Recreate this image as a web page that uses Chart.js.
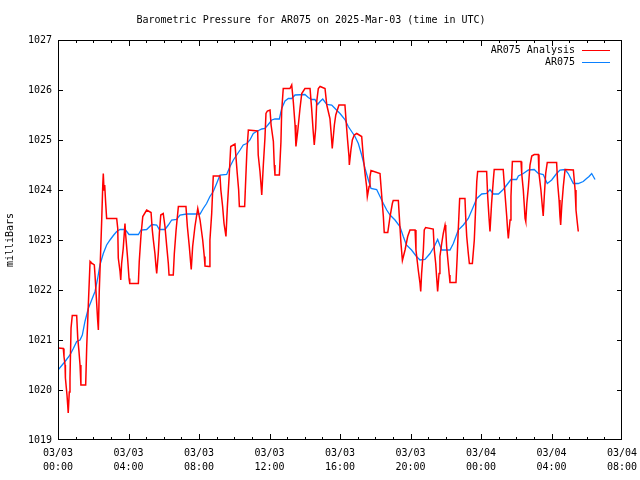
<!DOCTYPE html>
<html>
<head>
<meta charset="utf-8">
<script src="https://cdn.jsdelivr.net/npm/chart.js@4.4.1/dist/chart.umd.min.js"></script>
<style>
  html, body { margin: 0; padding: 0; background: #fff; }
  canvas { display: block; }
</style>
</head>
<body>
<canvas id="pressure-chart" width="640" height="480"></canvas>
<script>
// hours after 03/03 00:00 UTC, pressure in millibars
const analysisHours = [
  0.00, 0.30, 0.34, 0.40, 0.42, 0.51, 0.55, 0.58, 0.64, 0.68,
  0.74, 0.81, 1.06, 1.12, 1.19, 1.25, 1.30, 1.57, 1.63, 1.72,
  1.82, 1.87, 2.06, 2.10, 2.20, 2.25, 2.29, 2.34, 2.42, 2.48,
  2.54, 2.57, 2.61, 2.65, 2.70, 2.76, 3.33, 3.39, 3.42, 3.52,
  3.56, 3.61, 3.70, 3.80, 3.84, 3.95, 4.03, 4.07, 4.56, 4.61,
  4.71, 4.81, 5.03, 5.28, 5.35, 5.41, 5.50, 5.56, 5.60, 5.69,
  5.75, 5.83, 5.97, 6.07, 6.17, 6.26, 6.30, 6.54, 6.60, 6.70,
  6.83, 7.26, 7.34, 7.45, 7.53, 7.56, 7.64, 7.77, 7.87, 7.93,
  8.06, 8.21, 8.30, 8.34, 8.57, 8.62, 8.72, 8.81, 9.19, 9.24,
  9.34, 9.42, 9.53, 9.61, 9.72, 9.80, 10.04, 10.17, 10.25, 10.29,
  10.59, 10.65, 10.72, 10.80, 11.33, 11.36, 11.46, 11.52, 11.56, 11.65,
  11.74, 11.80, 11.88, 12.03, 12.09, 12.22, 12.27, 12.31, 12.56, 12.65,
  12.69, 12.78, 13.16, 13.26, 13.35, 13.45, 13.50, 13.60, 13.73, 13.83,
  14.01, 14.30, 14.39, 14.48, 14.54, 14.62, 14.68, 14.77, 14.87, 15.15,
  15.25, 15.43, 15.49, 15.56, 15.68, 15.76, 15.94, 16.28, 16.37, 16.43,
  16.51, 16.53, 16.62, 16.70, 16.81, 16.95, 17.23, 17.32, 17.42, 17.51,
  17.55, 17.65, 17.70, 17.76, 18.27, 18.37, 18.46, 18.51, 18.71, 18.84,
  18.97, 19.02, 19.31, 19.40, 19.46, 19.54, 19.69, 19.84, 19.97, 20.26,
  20.31, 20.44, 20.54, 20.58, 20.63, 20.73, 20.78, 20.86, 21.29, 21.35,
  21.43, 21.48, 21.54, 21.62, 21.67, 21.77, 21.86, 21.96, 22.00, 22.05,
  22.14, 22.20, 22.24, 22.58, 22.65, 22.71, 22.79, 23.09, 23.13, 23.19,
  23.28, 23.34, 23.51, 23.62, 23.70, 23.76, 23.81, 24.32, 24.38, 24.45,
  24.51, 24.60, 24.70, 24.75, 25.26, 25.36, 25.46, 25.51, 25.55, 25.65,
  25.70, 25.78, 26.27, 26.31, 26.40, 26.46, 26.50, 26.54, 26.60, 26.69,
  26.78, 26.88, 27.02, 27.25, 27.29, 27.40, 27.48, 27.53, 27.59, 27.67,
  27.76, 28.29, 28.35, 28.43, 28.48, 28.52, 28.58, 28.67, 28.77, 29.24,
  29.34, 29.39, 29.47, 29.52
];
const analysisValues = [
  1020.84, 1020.83, 1020.67, 1020.50, 1020.24, 1019.90, 1019.70, 1019.54, 1019.96, 1020.24,
  1021.24, 1021.49, 1021.49, 1021.04, 1020.77, 1020.50, 1020.10, 1020.10, 1020.87, 1021.70,
  1022.57, 1022.55, 1022.50, 1022.30, 1021.70, 1021.40, 1021.20, 1021.97, 1022.77, 1023.40,
  1024.10, 1024.33, 1024.00, 1024.10, 1023.77, 1023.43, 1023.43, 1023.23, 1022.64, 1022.37,
  1022.20, 1022.53, 1022.83, 1023.33, 1023.10, 1022.63, 1022.23, 1022.13, 1022.13, 1022.57,
  1023.10, 1023.47, 1023.60, 1023.55, 1023.20, 1023.00, 1022.73, 1022.47, 1022.33, 1022.73,
  1023.13, 1023.50, 1023.53, 1023.27, 1022.87, 1022.53, 1022.30, 1022.30, 1022.73, 1023.20,
  1023.67, 1023.67, 1023.27, 1022.87, 1022.53, 1022.41, 1022.87, 1023.27, 1023.50, 1023.63,
  1023.40, 1023.00, 1022.67, 1022.48, 1022.47, 1023.00, 1023.53, 1024.28, 1024.28, 1024.00,
  1023.67, 1023.33, 1023.07, 1023.67, 1024.33, 1024.87, 1024.92, 1024.33, 1024.00, 1023.67,
  1023.67, 1024.20, 1024.80, 1025.20, 1025.18, 1024.70, 1024.37, 1024.10, 1023.90, 1024.50,
  1025.03, 1025.53, 1025.58, 1025.60, 1025.30, 1024.97, 1024.50, 1024.30, 1024.30, 1024.97,
  1025.57, 1026.03, 1026.03, 1026.10, 1025.77, 1025.30, 1024.87, 1025.17, 1025.63, 1025.93,
  1026.03, 1026.03, 1025.63, 1025.17, 1024.90, 1025.23, 1025.77, 1026.03, 1026.07, 1026.03,
  1025.70, 1025.43, 1025.17, 1024.83, 1025.30, 1025.50, 1025.70, 1025.70, 1025.27, 1025.00,
  1024.67, 1024.50, 1024.80, 1025.00, 1025.10, 1025.13, 1025.07, 1024.67, 1024.33, 1024.07,
  1023.87, 1024.07, 1024.27, 1024.39, 1024.33, 1023.87, 1023.47, 1023.15, 1023.15, 1023.47,
  1023.73, 1023.79, 1023.79, 1023.27, 1022.93, 1022.59, 1022.80, 1023.07, 1023.20, 1023.20,
  1022.80, 1022.40, 1022.13, 1021.97, 1022.33, 1022.80, 1023.20, 1023.25, 1023.22, 1022.80,
  1022.53, 1022.27, 1021.97, 1022.33, 1022.67, 1022.93, 1023.13, 1023.30, 1023.20, 1022.87,
  1022.53, 1022.30, 1022.15, 1022.15, 1022.67, 1023.20, 1023.83, 1023.83, 1023.47, 1023.07,
  1022.73, 1022.53, 1022.53, 1023.00, 1023.67, 1024.17, 1024.37, 1024.37, 1023.87, 1023.47,
  1023.17, 1023.73, 1024.20, 1024.41, 1024.41, 1023.93, 1023.47, 1023.20, 1023.03, 1023.40,
  1023.87, 1024.57, 1024.57, 1024.33, 1024.00, 1023.67, 1023.43, 1023.37, 1023.73, 1024.07,
  1024.50, 1024.68, 1024.71, 1024.71, 1024.33, 1024.00, 1023.67, 1023.48, 1023.87, 1024.33,
  1024.55, 1024.55, 1024.13, 1023.80, 1023.47, 1023.30, 1023.67, 1024.07, 1024.41, 1024.40,
  1024.00, 1023.60, 1023.33, 1023.17
];

const stationHours = [
  0.00, 0.40, 0.68, 0.87, 1.06, 1.25, 1.38, 1.53, 1.72, 1.91,
  2.10, 2.25, 2.38, 2.57, 2.76, 2.95, 3.14, 3.33, 3.52, 3.80,
  3.90, 4.03, 4.56, 4.71, 5.03, 5.32, 5.60, 5.75, 6.07, 6.26,
  6.45, 6.73, 6.92, 7.30, 8.06, 8.24, 8.43, 8.62, 8.81, 9.00,
  9.19, 9.57, 9.76, 9.95, 10.14, 10.33, 10.51, 10.71, 10.89, 11.08,
  11.27, 11.56, 11.74, 11.93, 12.13, 12.31, 12.56, 12.69, 12.88, 13.07,
  13.26, 13.45, 14.01, 14.20, 14.39, 14.58, 14.73, 14.87, 15.02, 15.25,
  15.53, 15.72, 16.00, 16.28, 16.47, 16.66, 16.85, 17.04, 17.23, 17.42,
  17.61, 17.76, 18.08, 18.27, 18.46, 18.65, 18.84, 19.12, 19.40, 19.59,
  19.77, 20.06, 20.34, 20.54, 20.82, 21.11, 21.35, 21.54, 21.77, 22.24,
  22.43, 22.71, 23.00, 23.28, 23.57, 23.76, 24.04, 24.32, 24.51, 24.70,
  24.99, 25.26, 25.46, 25.70, 26.02, 26.12, 26.40, 26.69, 27.02, 27.25,
  27.53, 27.76, 28.01, 28.29, 28.48, 28.77, 28.95, 29.24, 29.52, 29.80,
  29.99, 30.13, 30.28, 30.47
];
const stationValues = [
  1020.40, 1020.57, 1020.70, 1020.83, 1020.97, 1021.00, 1021.10, 1021.37, 1021.63, 1021.80,
  1021.97, 1022.23, 1022.50, 1022.73, 1022.90, 1023.00, 1023.09, 1023.17, 1023.21, 1023.21,
  1023.17, 1023.11, 1023.11, 1023.20, 1023.21, 1023.31, 1023.30, 1023.21, 1023.21, 1023.30,
  1023.40, 1023.41, 1023.50, 1023.52, 1023.52, 1023.63, 1023.73, 1023.87, 1023.97, 1024.13,
  1024.30, 1024.31, 1024.47, 1024.60, 1024.70, 1024.80, 1024.90, 1024.93, 1025.00, 1025.13,
  1025.17, 1025.22, 1025.23, 1025.31, 1025.40, 1025.42, 1025.42, 1025.63, 1025.78, 1025.83,
  1025.83, 1025.90, 1025.91, 1025.85, 1025.81, 1025.81, 1025.71, 1025.77, 1025.82, 1025.71,
  1025.70, 1025.63, 1025.53, 1025.41, 1025.27, 1025.17, 1025.07, 1024.93, 1024.70, 1024.43,
  1024.20, 1024.03, 1024.01, 1023.87, 1023.73, 1023.60, 1023.50, 1023.40, 1023.27, 1023.07,
  1022.90, 1022.80, 1022.67, 1022.60, 1022.61, 1022.73, 1022.87, 1023.01, 1022.80, 1022.80,
  1022.93, 1023.20, 1023.30, 1023.43, 1023.67, 1023.83, 1023.92, 1023.93, 1024.01, 1023.92,
  1023.92, 1024.01, 1024.10, 1024.21, 1024.21, 1024.28, 1024.33, 1024.40, 1024.41, 1024.33,
  1024.31, 1024.13, 1024.20, 1024.33, 1024.40, 1024.41, 1024.33, 1024.13, 1024.13, 1024.17,
  1024.23, 1024.27, 1024.33, 1024.21
];

const seriesNames = ["AR075 Analysis", "AR075"];
const seriesColors = ["#ff0000", "#0a80ff"];
const startDay = 3; // 2025-Mar-03
const hourMin = 0, hourMax = 32, hourStep = 4;
const pressureMin = 1019, pressureMax = 1027;

const FONT = { family: "'DejaVu Sans Mono', monospace", size: 10 };

function toPoints(hours, values) {
    return hours.map((h, i) => ({ x: h, y: values[i] }));
}

function pad2(n) {
    return String(n).padStart(2, "0");
}

// gnuplot style frame with inward ticks on all four sides, plus legend in the top right
const gnuFrame = {
    id: "gnuFrame",
    afterDraw(chart) {
        const { ctx, chartArea: a, scales } = chart;
        ctx.save();
        ctx.strokeStyle = "#000";
        ctx.lineWidth = 1;
        ctx.strokeRect(a.left + 0.5, a.top + 0.5, a.right - a.left - 1, a.bottom - a.top - 1);

        ctx.beginPath();
        for (let h = hourMin + 1; h < hourMax; h++) {
            const px = Math.round(scales.x.getPixelForValue(h)) + 0.5;
            const len = h % hourStep === 0 ? 6 : 3;
            ctx.moveTo(px, a.bottom);
            ctx.lineTo(px, a.bottom - len);
            ctx.moveTo(px, a.top);
            ctx.lineTo(px, a.top + len);
        }
        for (let p = pressureMin + 1; p < pressureMax; p++) {
            const py = Math.round(scales.y.getPixelForValue(p)) + 0.5;
            ctx.moveTo(a.left, py);
            ctx.lineTo(a.left + 5, py);
            ctx.moveTo(a.right, py);
            ctx.lineTo(a.right - 5, py);
        }
        ctx.stroke();

        // legend
        ctx.font = `${FONT.size}px ${FONT.family}`;
        ctx.textAlign = "right";
        ctx.textBaseline = "middle";
        chart.data.datasets.forEach((ds, i) => {
            const ly = a.top + 10 + i * 12;
            ctx.fillStyle = "#000";
            ctx.fillText(ds.label, a.right - 47, ly);
            ctx.strokeStyle = ds.borderColor;
            ctx.beginPath();
            ctx.moveTo(a.right - 40, Math.round(ly) + 0.5);
            ctx.lineTo(a.right - 12, Math.round(ly) + 0.5);
            ctx.stroke();
        });
        ctx.restore();
    },
};

new Chart(document.getElementById("pressure-chart"), {
    type: "line",
    data: {
        datasets: [
            {
                label: seriesNames[0],
                data: toPoints(analysisHours, analysisValues),
                borderColor: seriesColors[0],
                borderWidth: 1.5,
            },
            {
                label: seriesNames[1],
                data: toPoints(stationHours, stationValues),
                borderColor: seriesColors[1],
                borderWidth: 1.3,
            },
        ],
    },
    options: {
        responsive: false,
        animation: false,
        devicePixelRatio: 1,
        layout: { padding: { left: 0, right: 18, top: 0, bottom: 0 } },
        elements: {
            point: { radius: 0 },
            line: { tension: 0, fill: false },
        },
        plugins: {
            legend: { display: false },
            tooltip: { enabled: false },
            title: {
                display: true,
                text: "Barometric Pressure for AR075 on 2025-Mar-03 (time in UTC)",
                color: "#000",
                font: { ...FONT, weight: "normal" },
                padding: { top: 14, bottom: 14 },
            },
        },
        scales: {
            x: {
                type: "linear",
                min: hourMin,
                max: hourMax,
                grid: { display: false, drawTicks: false },
                border: { display: false },
                ticks: {
                    stepSize: hourStep,
                    autoSkip: false,
                    maxRotation: 0,
                    padding: 6,
                    color: "#000",
                    font: { ...FONT, lineHeight: 1.4 },
                    callback: (v) => {
                        const day = startDay + Math.floor(v / 24);
                        return ["03/" + pad2(day), pad2(v % 24) + ":00"];
                    },
                },
                afterFit: (scale) => {
                    scale.height = 40;
                    scale.paddingLeft = 0;
                    scale.paddingRight = 0;
                },
            },
            y: {
                min: pressureMin,
                max: pressureMax,
                grid: { display: false, drawTicks: false },
                border: { display: false },
                ticks: {
                    stepSize: 1,
                    padding: 6,
                    color: "#000",
                    font: FONT,
                    callback: (v) => String(v),
                },
                title: {
                    display: true,
                    text: "milliBars",
                    color: "#000",
                    font: FONT,
                    padding: { top: 4, bottom: 0 },
                },
                afterFit: (scale) => {
                    scale.width = 58;
                    scale.paddingTop = 0;
                    scale.paddingBottom = 0;
                },
            },
        },
    },
    plugins: [gnuFrame],
});
</script>
</body>
</html>
